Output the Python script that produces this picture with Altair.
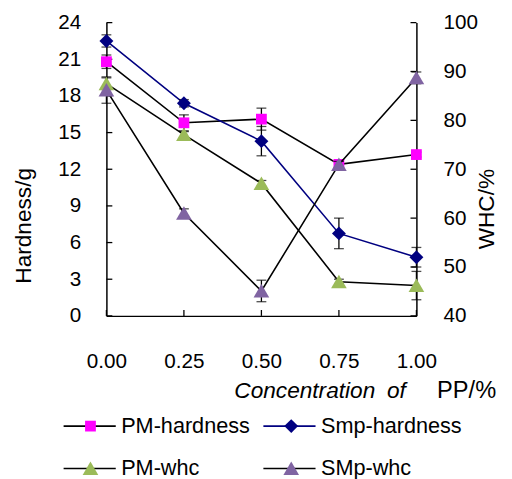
import altair as alt
import pandas as pd

FONT = "Liberation Sans"

conc = [0.0, 0.25, 0.50, 0.75, 1.00]
x_ticks = [0.0, 0.25, 0.5, 0.75, 1.0]
hard_ticks = [0, 3, 6, 9, 12, 15, 18, 21, 24]
whc_ticks = [40, 50, 60, 70, 80, 90, 100]
series = ["PM-hardness", "Smp-hardness", "PM-whc", "SMp-whc"]
series_m = [s + " " for s in series]

pm_hardness = [20.8, 15.8, 16.1, 12.4, 13.2]
pm_hardness_err = [0.55, 0.65, 0.9, 0.2, 0.2]
smp_hardness = [22.5, 17.4, 14.3, 6.75, 4.8]
smp_hardness_err = [0.5, 0.3, 1.2, 1.25, 0.8]
pm_whc = [87.5, 77.1, 67.1, 47.0, 46.2]
pm_whc_err = [1.2, 0.6, 0.6, 0.5, 2.9]
smp_whc = [86.2, 61.0, 45.1, 71.0, 88.7]
smp_whc_err = [2.7, 0.9, 2.2, 0.6, 1.2]

line_colors = ["#000000", "#000080", "#000000", "#000000"]
marker_colors = ["#FF00FF", "#000080", "#9BBB59", "#8064A2"]
marker_paths = [
    "M-0.62,-0.62H0.62V0.62H-0.62Z",
    "M-0.8,0L0,-0.8L0.8,0L0,0.8Z",
    "M0,-0.8L0.9,0.75L-0.9,0.75Z",
    "M0,-0.8L0.9,0.75L-0.9,0.75Z",
]

rows = []
for i, (vals, errs, ax) in enumerate([
    (pm_hardness, pm_hardness_err, "hard"),
    (smp_hardness, smp_hardness_err, "hard"),
    (pm_whc, pm_whc_err, "whc"),
    (smp_whc, smp_whc_err, "whc"),
]):
    for c, v, e in zip(conc, vals, errs):
        rows.append(dict(conc=c, value=v, lo=v - e, hi=v + e, series=series[i], series_m=series_m[i], ax=ax))
df = pd.DataFrame(rows)
hard = df[df.ax == "hard"]
whc = df[df.ax == "whc"]

W, H = 315, 298

x_axis = alt.Axis(values=x_ticks, format=".2f", title=None, ticks=False, labelPadding=35,
                  labelFontSize=21, labelFont=FONT, labelColor="black", domainColor="black",
                  domainWidth=1.5, grid=False, labelFlush=False)
yl_axis = alt.Axis(values=hard_ticks, orient="left", ticks=False, labelPadding=26, labelFontSize=21,
                   labelFont=FONT, labelColor="black", domainColor="black", domainWidth=1.5, grid=False,
                   title="Hardness/g", titleFont=FONT, titleFontSize=23, titleFontWeight="normal",
                   titleColor="black", titleAngle=270, titleX=-84, titleY=206, titleAlign="center",
                   titleBaseline="middle")
yr_axis = alt.Axis(values=whc_ticks, orient="right", ticks=False, labelPadding=27, labelFontSize=21,
                   labelFont=FONT, labelColor="black", domainColor="black", domainWidth=1.5, grid=False,
                   title="WHC/%", titleFont=FONT, titleFontSize=23, titleFontWeight="normal",
                   titleColor="black", titleAngle=270, titleX=71, titleY=189, titleAlign="center",
                   titleBaseline="middle")

xs = alt.Scale(domain=[0, 1])
yls = alt.Scale(domain=[0, 24])
yrs = alt.Scale(domain=[40, 100])

stroke_legend = alt.Legend(orient="none", legendX=-28, legendY=399, columns=2, direction="horizontal",
                           title=None, symbolType="M-3,0H3", symbolSize=312, symbolStrokeWidth=1.6,
                           labelFont=FONT, labelFontSize=22, labelColor="black", labelOffset=21,
                           columnPadding=10, rowPadding=21, padding=0)
shape_legend = alt.Legend(orient="none", legendX=-27.2, legendY=399, columns=2, direction="horizontal",
                          title=None, symbolSize=312, symbolStrokeWidth=0, symbolStrokeColor="transparent",
                          labelFont=FONT, labelFontSize=22, labelColor="black", labelOffset=22.6,
                          columnPadding=28, rowPadding=21, padding=0, labelOpacity=0)

stroke_enc = alt.Stroke("series:N", scale=alt.Scale(domain=series, range=line_colors), legend=stroke_legend)
fill_enc = alt.Fill("series_m:N", scale=alt.Scale(domain=series_m, range=marker_colors), legend=shape_legend)
shape_enc = alt.Shape("series_m:N", scale=alt.Scale(domain=series_m, range=marker_paths), legend=shape_legend)


def xenc():
    return alt.X("conc:Q", scale=xs, axis=x_axis)


def sub(data, yscale, yaxis):
    yv = alt.Y("value:Q", scale=yscale, axis=yaxis)
    lines = alt.Chart(data).mark_line(strokeWidth=1.6).encode(x=xenc(), y=yv, stroke=stroke_enc)
    err = alt.Chart(data).mark_rule(color="black", strokeWidth=1.3).encode(
        x=xenc(), y=alt.Y("lo:Q", scale=yscale, axis=yaxis), y2="hi:Q")
    cap_lo = alt.Chart(data).mark_tick(orient="horizontal", size=10, thickness=1.3, color="black").encode(
        x=xenc(), y=alt.Y("lo:Q", scale=yscale, axis=yaxis))
    cap_hi = alt.Chart(data).mark_tick(orient="horizontal", size=10, thickness=1.3, color="black").encode(
        x=xenc(), y=alt.Y("hi:Q", scale=yscale, axis=yaxis))
    pts = alt.Chart(data).mark_point(filled=True, size=312, opacity=1, strokeWidth=0).encode(
        x=xenc(), y=yv, fill=fill_enc, shape=shape_enc)
    return lines, err, cap_lo, cap_hi, pts


hl = sub(hard, yls, yl_axis)
wl = sub(whc, yrs, yr_axis)

lticks = alt.Chart(pd.DataFrame({"value": hard_ticks})).mark_rule(color="black", strokeWidth=1.3).encode(
    y=alt.Y("value:Q", scale=yls, axis=yl_axis), x=alt.value(0), x2=alt.value(6))
xticks = alt.Chart(pd.DataFrame({"conc": x_ticks})).mark_rule(color="black", strokeWidth=1.3).encode(
    x=xenc(), y=alt.value(H - 6), y2=alt.value(H))
rticks = alt.Chart(pd.DataFrame({"value": whc_ticks})).mark_rule(color="black", strokeWidth=1.3).encode(
    y=alt.Y("value:Q", scale=yrs, axis=yr_axis), x=alt.value(W - 6), x2=alt.value(W))

left = alt.layer(lticks, xticks, hl[0], hl[1], hl[2], hl[3], hl[4])
right = alt.layer(rticks, wl[0], wl[1], wl[2], wl[3], wl[4])

t1 = alt.Chart(pd.DataFrame({"t": ["Concentration"]})).mark_text(
    align="left", baseline="middle", font=FONT, fontSize=23, fontStyle="italic", color="black").encode(
    text="t:N", x=alt.value(130), y=alt.value(374))
t2 = alt.Chart(pd.DataFrame({"t": ["of"]})).mark_text(
    align="left", baseline="middle", font=FONT, fontSize=23, fontStyle="italic", color="black").encode(
    text="t:N", x=alt.value(285), y=alt.value(374))
t3 = alt.Chart(pd.DataFrame({"t": ["PP/%"]})).mark_text(
    align="center", baseline="middle", font=FONT, fontSize=24, color="black").encode(
    text="t:N", x=alt.value(366), y=alt.value(374))

chart = alt.layer(left, right, t1, t2, t3).resolve_scale(y="independent").properties(
    width=W, height=H, autosize=alt.AutoSizeParams(type="none"),
    padding={"left": 100, "top": 11, "right": 89, "bottom": 168},
).configure_view(strokeWidth=0)

chart.save("out.html", embed_options={"renderer": "svg", "actions": False})
